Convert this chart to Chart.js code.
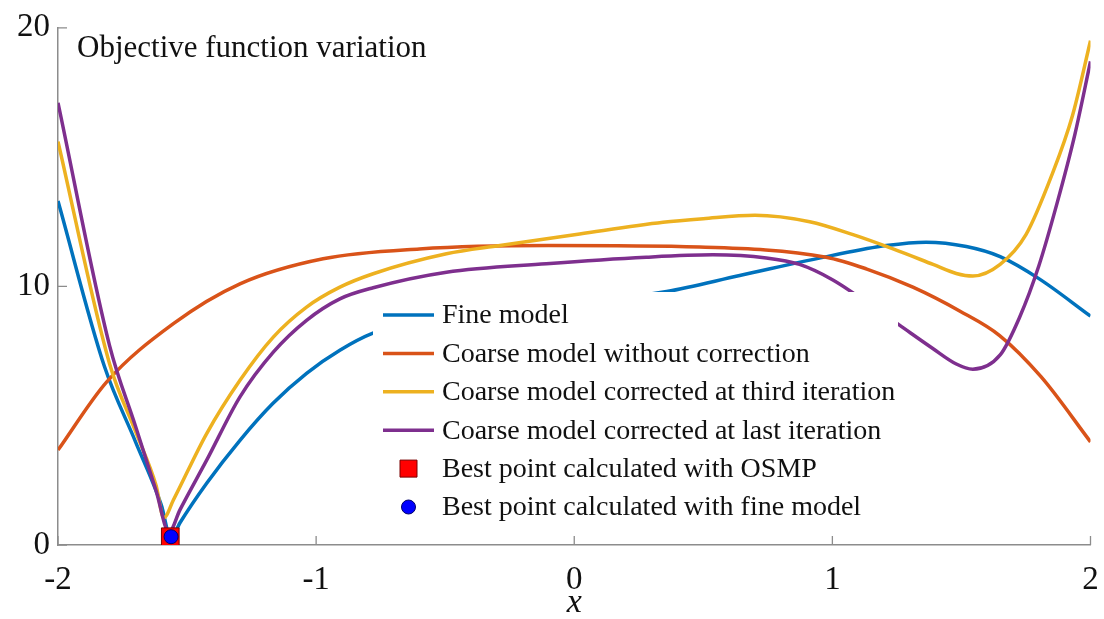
<!DOCTYPE html>
<html>
<head>
<meta charset="utf-8">
<script src="https://cdn.jsdelivr.net/npm/chart.js@4.4.0/dist/chart.umd.min.js"></script>
<style>
  body { margin: 0; background: #fff; }
  canvas { display: block; }
</style>
</head>
<body>
<canvas id="objective-chart" width="1104" height="619"></canvas>
<script>
// Values
const fineX = [-2, -1.82, -1.7, -1.6, -1.562, -1.528, -1.424, -1.295, -1.167, -1.037, -0.908, -0.78, -0.5, -0.2, 0.1, 0.358, 0.641, 1.0, 1.209, 1.363, 1.519, 1.65, 1.8, 2.0];
const fineY = [13.3, 6.9, 4.0, 1.55, 0.25, 0.85, 2.39, 4.05, 5.48, 6.64, 7.53, 8.19, 8.95, 9.3, 9.45, 9.8, 10.42, 11.2, 11.58, 11.71, 11.54, 11.15, 10.3, 8.85];

const coarseX = [-2, -1.812, -1.553, -1.295, -0.973, -0.6, -0.1, 0.486, 0.976, 1.131, 1.312, 1.493, 1.648, 1.809, 2.0];
const coarseY = [3.67, 6.3, 8.56, 10.1, 11.07, 11.45, 11.58, 11.52, 11.13, 10.68, 9.97, 9.05, 8.1, 6.5, 3.99];

const thirdX = [-2, -1.8, -1.7, -1.62, -1.59, -1.553, -1.424, -1.295, -1.166, -1.037, -0.908, -0.779, -0.495, -0.288, 0.021, 0.344, 0.5, 0.7, 0.912, 1.08, 1.235, 1.39, 1.48, 1.544, 1.65, 1.75, 1.85, 1.93, 2.0];
const thirdY = [15.6, 7.0, 4.4, 2.3, 1.05, 1.74, 4.31, 6.37, 8.04, 9.2, 9.97, 10.49, 11.26, 11.58, 12.03, 12.48, 12.62, 12.75, 12.5, 12.0, 11.45, 10.85, 10.5, 10.4, 10.85, 12.0, 14.3, 16.6, 19.5];

const lastX = [-2, -1.8, -1.7, -1.62, -1.57, -1.528, -1.424, -1.295, -1.166, -1.037, -0.908, -0.779, -0.495, -0.108, 0.279, 0.537, 0.744, 0.873, 1.002, 1.131, 1.26, 1.389, 1.48, 1.544, 1.65, 1.725, 1.8, 1.87, 1.94, 2.0];
const lastY = [17.1, 7.7, 4.6, 2.1, 0.5, 1.35, 3.28, 5.73, 7.46, 8.69, 9.52, 9.95, 10.55, 10.88, 11.13, 11.22, 11.1, 10.85, 10.25, 9.4, 8.5, 7.6, 7.0, 6.8, 7.35, 8.8, 10.8, 13.2, 15.9, 18.7];

const osmpX = [-1.565];
const osmpY = [0.32];
const bestFineX = [-1.562];
const bestFineY = [0.32];

const xTicks = [-2, -1, 0, 1, 2];
const yTicks = [0, 10, 20];

const seriesLabels = [
  'Fine model',
  'Coarse model without correction',
  'Coarse model corrected at third iteration',
  'Coarse model corrected at last iteration',
  'Best point calculated with OSMP',
  'Best point calculated with fine model'
];

const serif = "'Liberation Serif', 'Times New Roman', serif";
const axisColor = '#8c8c8c';
const textColor = '#111';

const toPoints = (xs, ys) => xs.map((x, i) => ({ x: x, y: ys[i] }));

function lineSet(label, xs, ys, color, order) {
  return {
    label: label,
    data: toPoints(xs, ys),
    borderColor: color,
    backgroundColor: color,
    borderWidth: 3.5,
    pointRadius: 0,
    cubicInterpolationMode: 'monotone',
    fill: false,
    order: order,
  };
}

const datasets = [
  lineSet(seriesLabels[0], fineX, fineY, '#0072BD', 5),
  lineSet(seriesLabels[1], coarseX, coarseY, '#D95319', 4),
  lineSet(seriesLabels[2], thirdX, thirdY, '#EDB120', 3),
  lineSet(seriesLabels[3], lastX, lastY, '#7E2F8E', 2),
  {
    label: seriesLabels[4],
    data: toPoints(osmpX, osmpY),
    showLine: false,
    pointStyle: 'rect',
    pointRadius: 12.5,
    backgroundColor: '#FF0000',
    borderColor: '#7a0000',
    borderWidth: 1,
    order: 1,
  },
  {
    label: seriesLabels[5],
    data: toPoints(bestFineX, bestFineY),
    showLine: false,
    pointStyle: 'circle',
    pointRadius: 7,
    backgroundColor: '#0000FF',
    borderColor: '#00006a',
    borderWidth: 1,
    order: 0,
  },
];

// legend sits inside the plot on a white box, like the matlab figure
const boxLegend = {
  id: 'boxLegend',
  afterDatasetsDraw(chart) {
    const ctx = chart.ctx;
    ctx.save();
    ctx.fillStyle = '#fff';
    ctx.fillRect(373, 292, 525, 234);
    ctx.font = '28px ' + serif;
    ctx.textBaseline = 'middle';
    chart.data.datasets.forEach((ds, i) => {
      const yy = 315 + i * 38.4;
      if (ds.showLine === false) {
        ctx.fillStyle = ds.backgroundColor;
        ctx.strokeStyle = ds.borderColor;
        ctx.lineWidth = 1;
        ctx.beginPath();
        if (ds.pointStyle === 'rect') ctx.rect(400, yy - 8.5, 17, 17);
        else ctx.arc(408.5, yy, 7, 0, Math.PI * 2);
        ctx.fill();
        ctx.stroke();
      } else {
        ctx.strokeStyle = ds.borderColor;
        ctx.lineWidth = 3.5;
        ctx.beginPath();
        ctx.moveTo(383, yy);
        ctx.lineTo(434, yy);
        ctx.stroke();
      }
      ctx.fillStyle = textColor;
      ctx.fillText(ds.label, 442, yy + 1);
    });
    ctx.restore();
  },
  afterDraw(chart) {
    const { ctx, chartArea, scales } = chart;
    ctx.save();
    // inward tick marks
    ctx.strokeStyle = axisColor;
    ctx.lineWidth = 1.3;
    ctx.beginPath();
    xTicks.forEach(v => {
      const px = scales.x.getPixelForValue(v);
      ctx.moveTo(px, chartArea.bottom);
      ctx.lineTo(px, chartArea.bottom - 9);
    });
    yTicks.forEach(v => {
      const py = scales.y.getPixelForValue(v);
      ctx.moveTo(chartArea.left, py);
      ctx.lineTo(chartArea.left + 9, py);
    });
    ctx.stroke();
    // plot title inside the axes
    ctx.fillStyle = textColor;
    ctx.font = '31px ' + serif;
    ctx.textBaseline = 'alphabetic';
    ctx.fillText('Objective function variation', 77, 57);
    // x axis label
    ctx.font = 'italic 34px ' + serif;
    ctx.textAlign = 'center';
    ctx.fillText('x', (chartArea.left + chartArea.right) / 2, 612);
    ctx.restore();
  }
};

new Chart(document.getElementById('objective-chart').getContext('2d'), {
  type: 'line',
  data: { datasets: datasets },
  options: {
    responsive: false,
    animation: false,
    devicePixelRatio: 1,
    layout: { padding: { top: 27, right: 13, left: 0, bottom: 0 } },
    plugins: {
      legend: { display: false },
      tooltip: { enabled: false },
    },
    scales: {
      x: {
        type: 'linear',
        min: -2,
        max: 2,
        afterBuildTicks: s => { s.ticks = xTicks.map(v => ({ value: v })); },
        afterFit: s => { s.height = 74; s.paddingLeft = 0; s.paddingRight = 0; },
        grid: { display: false, drawTicks: false },
        border: { display: true, color: axisColor, width: 1.5 },
        ticks: { color: textColor, padding: 16, maxRotation: 0, font: { family: serif, size: 33 } },
      },
      y: {
        type: 'linear',
        min: 0,
        max: 20,
        afterBuildTicks: s => { s.ticks = yTicks.map(v => ({ value: v })); },
        afterFit: s => { s.width = 58; },
        grid: { display: false, drawTicks: false },
        border: { display: true, color: axisColor, width: 1.5 },
        ticks: { color: textColor, padding: 8, font: { family: serif, size: 33 } },
      },
    },
  },
  plugins: [boxLegend],
});
</script>
</body>
</html>
